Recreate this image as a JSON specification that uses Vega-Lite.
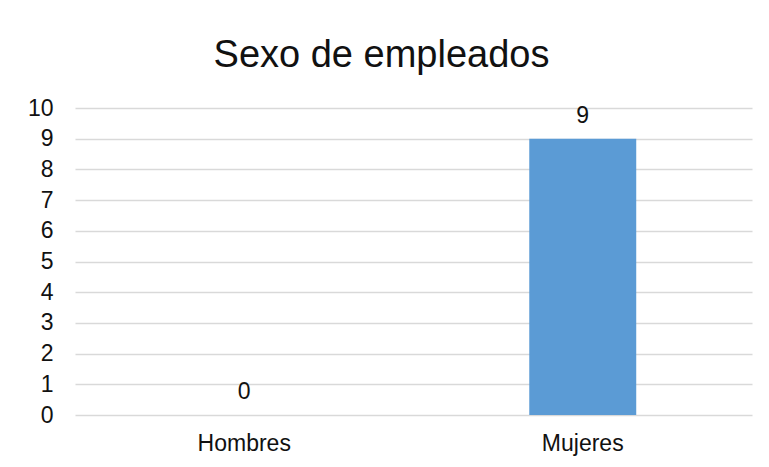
{
  "$schema": "https://vega.github.io/schema/vega-lite/v6.json",
  "autosize": {"type": "none"},
  "width": 677,
  "height": 307,
  "padding": {"left": 75, "top": 108, "right": 17, "bottom": 52},
  "background": "white",
  "title": {
    "text": "Sexo de empleados",
    "fontSize": 38,
    "font": "Liberation Sans",
    "fontWeight": "normal",
    "color": "#111111",
    "anchor": "middle",
    "offset": 22,
    "dx": -32
  },
  "data": {
    "values": [
      {"sexo": "Hombres", "cantidad": 0},
      {"sexo": "Mujeres", "cantidad": 9}
    ]
  },
  "encoding": {
    "x": {
      "field": "sexo",
      "type": "nominal",
      "sort": null,
      "scale": {"paddingInner": 0.684, "paddingOuter": 0.342},
      "axis": {
        "title": null,
        "labelAngle": 0,
        "domain": false,
        "ticks": false,
        "labelFontSize": 23,
        "labelFont": "Liberation Sans",
        "labelColor": "#111111",
        "labelPadding": 17
      }
    },
    "y": {
      "field": "cantidad",
      "type": "quantitative",
      "scale": {"domain": [0, 10], "nice": false},
      "axis": {
        "title": null,
        "values": [0, 1, 2, 3, 4, 5, 6, 7, 8, 9, 10],
        "domain": false,
        "ticks": false,
        "grid": true,
        "gridColor": "#d9d9d9",
        "gridWidth": 1.6,
        "labelFontSize": 23,
        "labelFont": "Liberation Sans",
        "labelColor": "#111111",
        "labelPadding": 22
      }
    }
  },
  "layer": [
    {"mark": {"type": "bar", "color": "#5B9BD5"}},
    {
      "mark": {
        "type": "text",
        "baseline": "alphabetic",
        "dy": -16,
        "fontSize": 23,
        "font": "Liberation Sans",
        "color": "#111111"
      },
      "encoding": {"text": {"field": "cantidad", "type": "quantitative"}}
    }
  ],
  "config": {"view": {"stroke": null}}
}
